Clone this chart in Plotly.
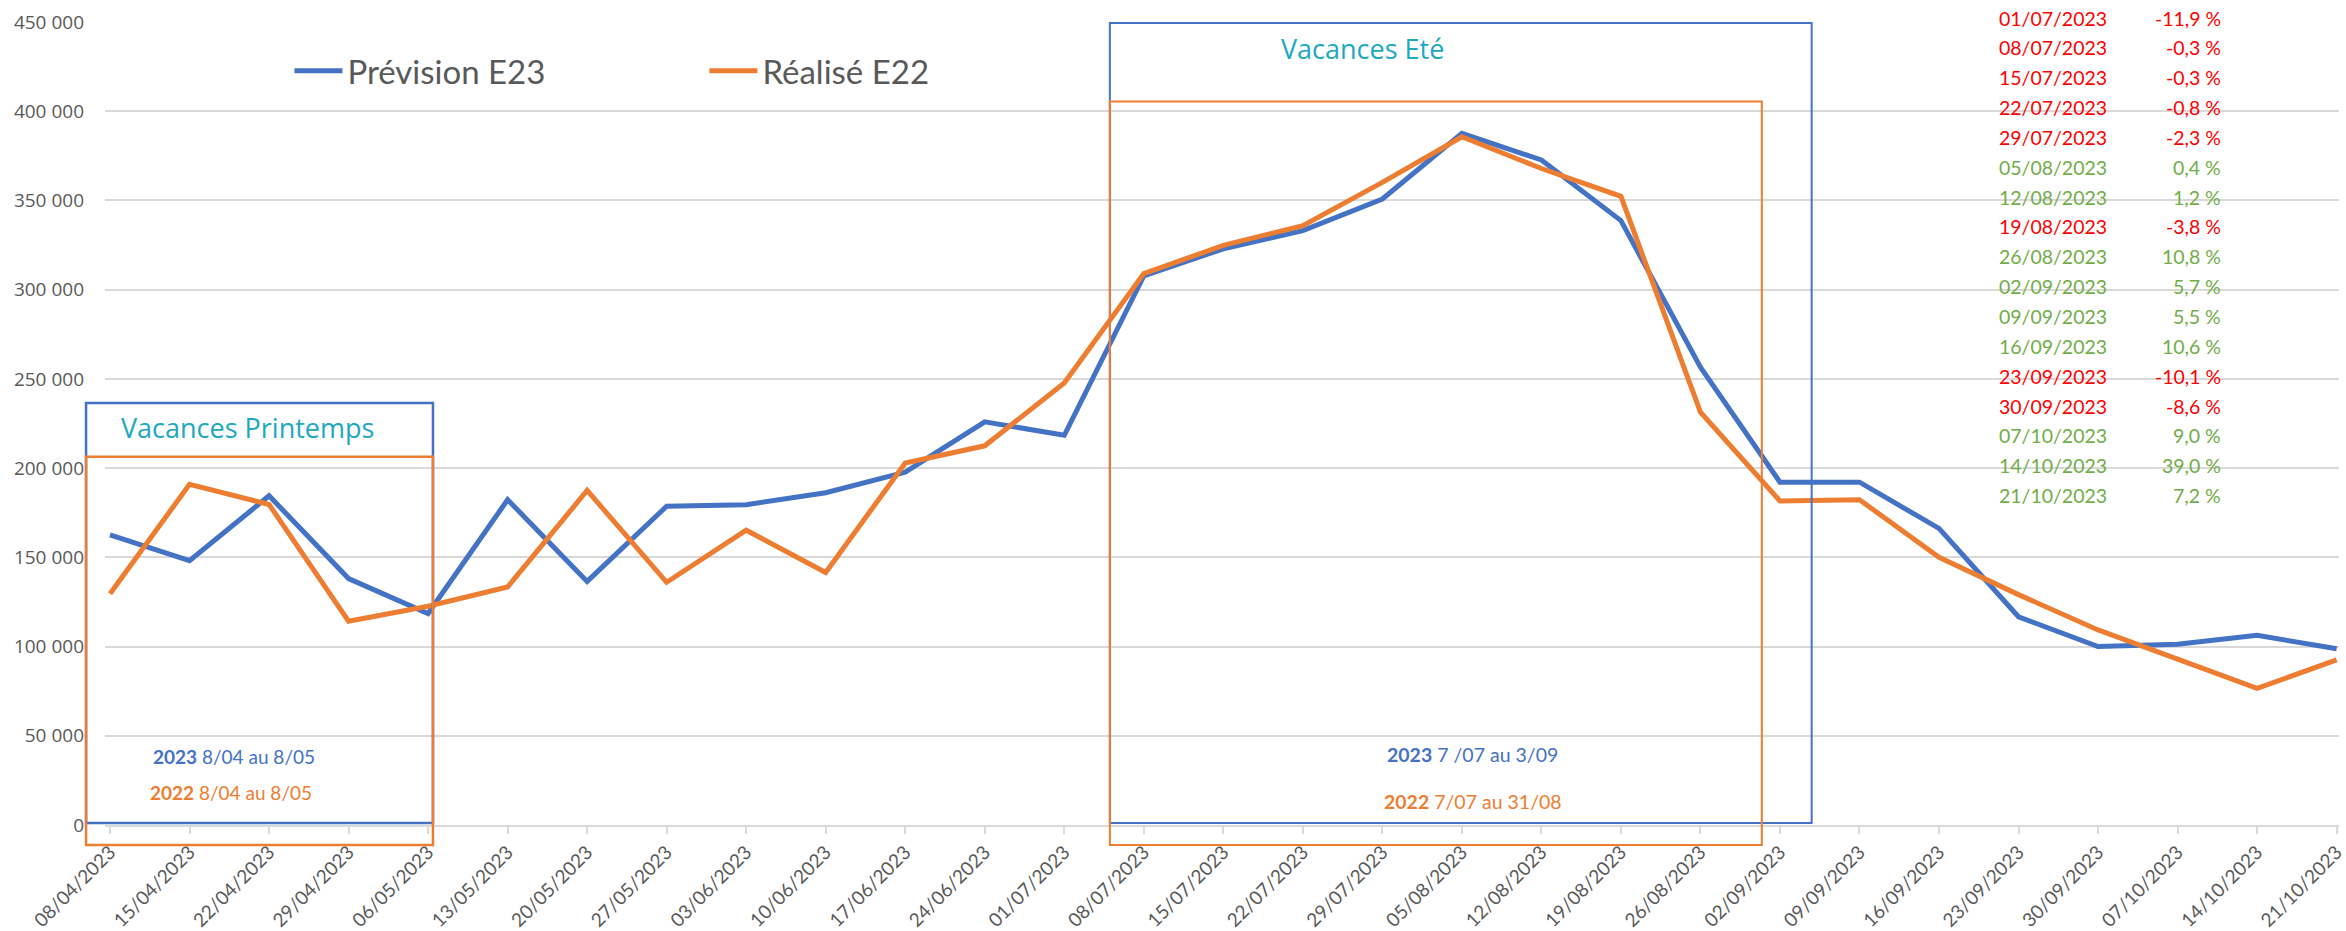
import plotly.graph_objects as go

# ---------------- data ----------------
dates = ["08/04/2023", "15/04/2023", "22/04/2023", "29/04/2023", "06/05/2023",
         "13/05/2023", "20/05/2023", "27/05/2023", "03/06/2023", "10/06/2023",
         "17/06/2023", "24/06/2023", "01/07/2023", "08/07/2023", "15/07/2023",
         "22/07/2023", "29/07/2023", "05/08/2023", "12/08/2023", "19/08/2023",
         "26/08/2023", "02/09/2023", "09/09/2023", "16/09/2023", "23/09/2023",
         "30/09/2023", "07/10/2023", "14/10/2023", "21/10/2023"]

prevision_e23 = [162600, 148100, 184500, 138100, 118500,
                 182300, 136500, 178600, 179500, 186200,
                 197700, 225900, 218400, 307700, 322900,
                 333100, 350800, 387600, 372700, 338700,
                 256500, 192100, 192100, 166200, 116700,
                 100000, 101300, 106300, 98800]

realise_e22 = [129600, 190900, 179600, 114200, 122600,
               133400, 187500, 136000, 165200, 141500,
               202900, 212500, 247700, 309000, 324800,
               335900, 360100, 385700, 367900, 352300,
               231400, 181600, 182300, 150000, 129100,
               109300, 93000, 76600, 92500]

y_ticks = [0, 50000, 100000, 150000, 200000, 250000, 300000, 350000, 400000, 450000]

tbl_dates = ["01/07/2023", "08/07/2023", "15/07/2023", "22/07/2023", "29/07/2023",
             "05/08/2023", "12/08/2023", "19/08/2023", "26/08/2023", "02/09/2023",
             "09/09/2023", "16/09/2023", "23/09/2023", "30/09/2023", "07/10/2023",
             "14/10/2023", "21/10/2023"]
tbl_pct = [-11.9, -0.3, -0.3, -0.8, -2.3, 0.4, 1.2, -3.8, 10.8, 5.7,
           5.5, 10.6, -10.1, -8.6, 9.0, 39.0, 7.2]

# ---------------- layout helpers (pixel -> paper) ----------------
W, H = 2346, 931
L, R, T, B = 105, 2346, 22, 829


def fx(px):
    return (px - L) / (R - L)


def fy(py):
    return (B - py) / (B - T)


BLUE = "#4472C4"
ORANGE = "#ED7D31"
TEAL = "#20A8C0"
GREY = "#595959"
RED = "#FF0000"
GREEN = "#70AD47"

fig = go.Figure()
fig.add_trace(go.Scatter(x=dates, y=prevision_e23, name="Prévision E23", mode="lines",
                         line=dict(color=BLUE, width=5)))
fig.add_trace(go.Scatter(x=dates, y=realise_e22, name="Réalisé E22", mode="lines",
                         line=dict(color=ORANGE, width=5)))

shapes = []
# white text boxes (cover gridline)
for x0, x1, y0, y1 in [(125, 349, 730, 815), (1283, 1672, 730, 820)]:
    shapes.append(dict(type="rect", xref="paper", yref="paper",
                       x0=fx(x0), x1=fx(x1), y0=fy(y1), y1=fy(y0),
                       fillcolor="white", line=dict(width=0), layer="between"))
# vacation boxes
boxes = [
    (86, 434, 405, 827, BLUE, 2.5),
    (86, 434, 459, 849, ORANGE, 2.5),
    (1113, 1817, 23, 827, BLUE, 2),
    (1113, 1767, 102, 849, ORANGE, 2),
]
for x0, x1, y0, y1, c, w in boxes:
    shapes.append(dict(type="rect", xref="paper", yref="paper",
                       x0=fx(x0), x1=fx(x1), y0=fy(y1), y1=fy(y0),
                       line=dict(color=c, width=w), fillcolor="rgba(0,0,0,0)", layer="above"))

ann = []


def add_text(text, px, py, size, color, family="Lato", xanchor="center"):
    ann.append(dict(text=text, x=fx(px), y=fy(py), xref="paper", yref="paper",
                    xanchor=xanchor, yanchor="middle", showarrow=False,
                    font=dict(family=family, size=size, color=color)))


add_text("Vacances Printemps", 248, 430, 27, TEAL, family="Open Sans")
add_text("Vacances Eté", 1366, 49, 27, TEAL, family="Open Sans")
add_text("<b>2023</b> 8/04 au 8/05", 234, 760, 19, BLUE)
add_text("<b>2022</b> 8/04 au 8/05", 231, 796, 19, ORANGE)
add_text("<b>2023</b> 7 /07 au 3/09", 1477, 758, 19.5, BLUE)
add_text("<b>2022</b> 7/07 au 31/08", 1477, 805, 19.5, ORANGE)

for k, (d, p) in enumerate(zip(tbl_dates, tbl_pct)):
    col = RED if p < 0 else GREEN
    py = 18 + 30 * k
    add_text(d, 2003, py, 19.5, col, xanchor="left")
    add_text(f"{p:.1f} %".replace(".", ","), 2230, py, 19.5, col, xanchor="right")

fig.update_layout(
    width=W, height=H,
    margin=dict(l=L, r=W - R, t=T, b=H - B, pad=0),
    paper_bgcolor="white", plot_bgcolor="white",
    separators=", ",
    shapes=shapes, annotations=ann,
    showlegend=True,
    legend=dict(orientation="h", x=fx(290), y=fy(71), xanchor="left", yanchor="middle",
                font=dict(family="Lato", size=33, color=GREY),
                entrywidth=352, entrywidthmode="pixels", itemwidth=48,
                bgcolor="rgba(0,0,0,0)"),
    xaxis=dict(type="category", range=[-0.063, 28.03], tickangle=-45,
               tickfont=dict(family="Lato", size=19, color=GREY),
               showgrid=False, showline=True, linecolor="#d9d9d9", linewidth=1.5,
               ticks="outside", ticklen=7, tickcolor="#d9d9d9", tickwidth=1.5,
               zeroline=False),
    yaxis=dict(range=[0, 450000], tickvals=y_ticks, tickformat=",d",
               tickfont=dict(family="Open Sans", size=19, color=GREY),
               showgrid=True, gridcolor="#d9d9d9", gridwidth=1.5,
               zeroline=False, showline=False, ticks="", ticklabelstandoff=20),
)

fig.write_html("out.html", config={"displayModeBar": False},
               post_script="document.body.style.margin='0px';")
